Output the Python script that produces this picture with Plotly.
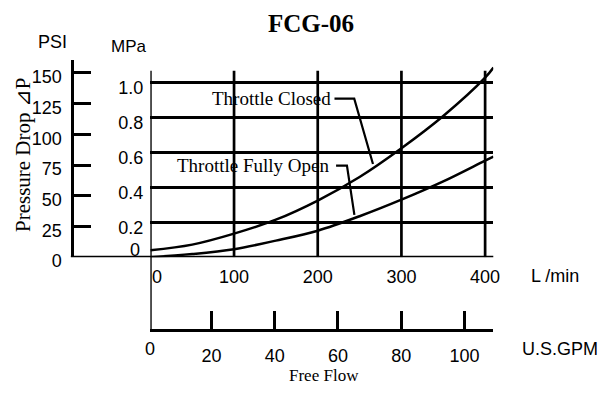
import plotly.graph_objects as go

# Flow rate (L/min) and pressure drop (MPa) for the two throttle settings
flow_lpm = [0, 50, 100, 150, 200, 250, 300, 350, 400, 410]
closed_mpa = [0.04, 0.072, 0.135, 0.215, 0.325, 0.46, 0.625, 0.81, 1.03, 1.088]
open_mpa = [0.0, 0.018, 0.046, 0.095, 0.152, 0.235, 0.33, 0.435, 0.554, 0.577]

# Axis ticks
lpm_ticks = [100, 200, 300, 400]
mpa_ticks = [0.2, 0.4, 0.6, 0.8, 1.0]
mpa_labels = ["0.2", "0.4", "0.6", "0.8", "1.0"]
psi_ticks = [0, 25, 50, 75, 100, 125, 150]
gpm_ticks = [20, 40, 60, 80, 100]

W, H = 611, 394
SERIF = "Liberation Serif"
SANS = "Liberation Sans"
LW = 2.7


def fx(p):
    return p / W


def fy(p):
    return 1 - p / H


fig = go.Figure()

fig.add_trace(go.Scatter(x=flow_lpm, y=closed_mpa, mode="lines",
                         line=dict(color="black", width=2.5, shape="spline"),
                         name="Throttle Closed", hoverinfo="skip"))
fig.add_trace(go.Scatter(x=flow_lpm, y=open_mpa, mode="lines",
                         line=dict(color="black", width=2.5, shape="spline"),
                         name="Throttle Fully Open", hoverinfo="skip"))
# placeholders so the secondary scales (PSI, GPM) are rendered
fig.add_trace(go.Scatter(x=[0], y=[0], yaxis="y2", mode="markers",
                         marker=dict(opacity=0), hoverinfo="skip"))
fig.add_trace(go.Scatter(x=[20], y=[0], xaxis="x2", mode="markers",
                         marker=dict(opacity=0), hoverinfo="skip"))

tickfont = dict(family=SANS, size=18, color="black")

fig.update_layout(
    width=W, height=H, autosize=False,
    margin=dict(l=0, r=0, t=0, b=0),
    paper_bgcolor="white", plot_bgcolor="white",
    showlegend=False,
    xaxis=dict(domain=[fx(152.1), fx(499)], range=[0, 409.76], anchor="y",
               tickvals=lpm_ticks, ticks="", showgrid=False, zeroline=False,
               showline=False, tickfont=tickfont, ticklabelstandoff=7),
    xaxis2=dict(overlaying="x", anchor="free", position=fy(341.7), side="bottom",
                range=[0.641, 109.13], tickvals=gpm_ticks, ticks="inside",
                ticklen=18, tickwidth=LW, tickcolor="black", showline=True,
                linewidth=LW, linecolor="black", showgrid=False, zeroline=False,
                tickfont=tickfont, ticklabelstandoff=9),
    yaxis=dict(domain=[fy(266.65), fy(62.7)], range=[0, 1.1287], anchor="x",
               tickvals=mpa_ticks, ticktext=mpa_labels, ticks="",
               showgrid=True, gridcolor="black", gridwidth=LW, zeroline=False,
               showline=False, tickfont=tickfont, ticklabelstandoff=6,
               ticklabelshift=5),
    yaxis2=dict(overlaying="y", anchor="free", position=fx(73), side="left",
                range=[0, 160.2], tickvals=psi_ticks, ticks="inside",
                ticklen=17, tickwidth=LW, tickcolor="black", showline=True,
                linewidth=LW, linecolor="black", showgrid=False, zeroline=False,
                tickfont=tickfont, ticklabelstandoff=6, ticklabelshift=4),
)

line = dict(color="black", width=LW)
shapes = []
# vertical grid lines of the L/min scale
for v in lpm_ticks:
    shapes.append(dict(type="line", xref="x", yref="y", x0=v, x1=v, y0=0, y1=1.07,
                       line=line))
# MPa scale line, running down to the GPM scale
shapes.append(dict(type="line", xref="x", yref="paper", x0=0, x1=0,
                   y0=fy(343), y1=fy(73.3), line=line))
# zero pressure baseline from the PSI scale across the chart
shapes.append(dict(type="line", xref="paper", yref="y", x0=fx(71.65), x1=fx(499),
                   y0=0, y1=0, line=line))
# leader lines for the curve labels
shapes.append(dict(type="path", xref="x", yref="y",
                   path="M 220,0.9095 L 243.6,0.9095 L 266,0.535",
                   line=dict(color="black", width=2.2)))
shapes.append(dict(type="path", xref="x", yref="y",
                   path="M 221.9,0.5255 L 234.9,0.5255 L 243.8,0.2432",
                   line=dict(color="black", width=2.2)))
fig.update_layout(shapes=shapes)

ann = []


def paper_text(text, x, y, font, **kw):
    ann.append(dict(text=text, xref="paper", yref="paper", x=fx(x), y=fy(y),
                    xanchor="center", yanchor="middle", showarrow=False,
                    font=font, **kw))


serif19 = dict(family=SERIF, size=19, color="black")

paper_text("<b>FCG-06</b>", 315, 24, dict(family=SERIF, size=25, color="black"))
paper_text("PSI", 53.3, 43.8, tickfont)
paper_text("MPa", 130, 48.3, dict(family=SANS, size=17, color="black"))
paper_text("Pressure Drop ⊿P", 24, 160, dict(family=SERIF, size=21, color="black"),
           textangle=-90)
paper_text("L /min", 561, 286, tickfont)
paper_text("U.S.GPM", 566.5, 362, tickfont)
paper_text("Free Flow", 327.6, 389, dict(family=SERIF, size=17, color="black"))

ann.append(dict(text="Throttle Closed", xref="x", yref="y", x=218.8, y=0.911,
                xanchor="right", yanchor="middle", showarrow=False, font=serif19))
ann.append(dict(text="Throttle Fully Open", xref="x", yref="y", x=216.0, y=0.524,
                xanchor="right", yanchor="middle", showarrow=False, font=serif19))

# zero labels of the three flow/pressure scales
ann.append(dict(text="0", xref="x", yref="y", x=0, y=0, xanchor="left",
                yanchor="middle", yshift=-19.4, showarrow=False, font=tickfont))
ann.append(dict(text="0", xref="x", yref="y", x=0, y=0, xanchor="right",
                xshift=-8, yanchor="middle", yshift=7.3, showarrow=False,
                font=tickfont))
ann.append(dict(text="0", xref="x", yref="paper", x=0, y=fy(362), xanchor="center",
                yanchor="middle", showarrow=False, font=tickfont))
fig.update_layout(annotations=ann)

fig.write_html("out.html", config={"displayModeBar": False})
